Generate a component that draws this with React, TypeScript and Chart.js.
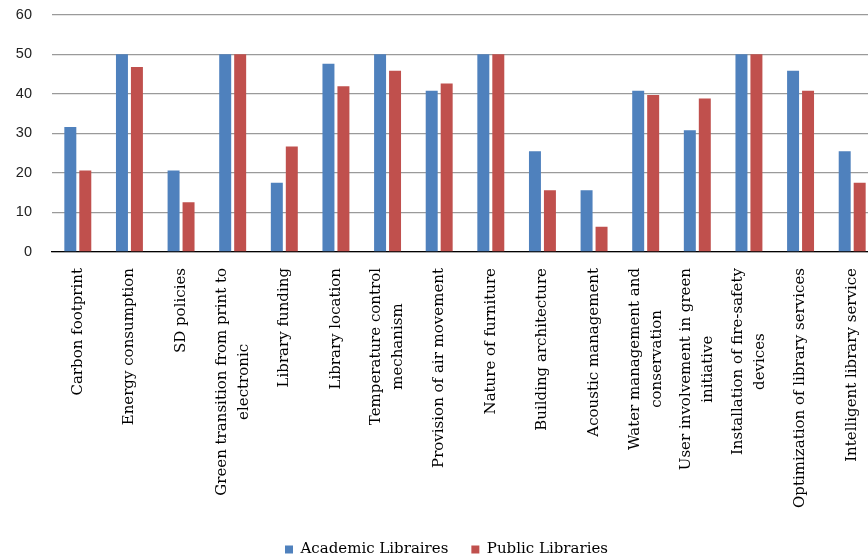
import React, { useEffect, useRef } from "react";
import { Chart, registerables } from "chart.js";

Chart.register(...registerables);

const categories: string[][] = [
  ["Carbon footprint"],
  ["Energy consumption"],
  ["SD policies"],
  ["Green transition from print to", "electronic"],
  ["Library funding"],
  ["Library location"],
  ["Temperature control", "mechanism"],
  ["Provision of air movement"],
  ["Nature of furniture"],
  ["Building architecture"],
  ["Acoustic management"],
  ["Water management and", "conservation"],
  ["User involvement in green", "initiative"],
  ["Installation of fire-safety", "devices"],
  ["Optimization of library services"],
  ["Intelligent library service"],
];

const academicLibraries = [31.6, 50, 20.6, 50, 17.5, 47.6, 50, 40.8, 50, 25.5, 15.6, 40.8, 30.8, 50, 45.8, 25.5];
const publicLibraries = [20.6, 46.8, 12.6, 50, 26.7, 41.9, 45.8, 42.6, 50, 15.6, 6.4, 39.7, 38.8, 50, 40.8, 17.5];

const seriesNames = ["Academic Libraires", "Public Libraries"];
const yMin = 0;
const yMax = 60;
const yStep = 10;

const SERIF = "'DejaVu Serif', 'Liberation Serif', serif";
const SANS = "'Liberation Sans', Arial, sans-serif";

const xLabelPlugin = {
  id: "xLabelsCentered",
  afterDraw(chart: any) {
    const ctx = chart.ctx;
    const xs = chart.scales.x;
    const bottom = chart.chartArea.bottom;
    ctx.save();
    ctx.font = `15px ${SERIF}`;
    ctx.fillStyle = "#000";
    ctx.textAlign = "center";
    ctx.textBaseline = "middle";
    categories.forEach((lines, i) => {
      const px = xs.getPixelForTick(i);
      const blockW = Math.max(...lines.map((l) => ctx.measureText(l).width));
      const cy = bottom + 16 + blockW / 2;
      lines.forEach((line, j) => {
        const lx = px + (j - (lines.length - 1) / 2) * 22;
        ctx.save();
        ctx.translate(lx, cy);
        ctx.rotate(-Math.PI / 2);
        ctx.fillText(line, 0, 0);
        ctx.restore();
      });
    });
    ctx.restore();
  },
};

export default function App() {
  const ref = useRef<HTMLCanvasElement | null>(null);

  useEffect(() => {
    if (!ref.current) return;
    const chart = new Chart(ref.current, {
      type: "bar",
      data: {
        labels: categories.map((l) => l.join(" ")),
        datasets: [
          {
            label: seriesNames[0],
            data: academicLibraries,
            backgroundColor: "#4F81BD",
            borderWidth: 0,
            categoryPercentage: 0.58,
            barPercentage: 0.8,
          },
          {
            label: seriesNames[1],
            data: publicLibraries,
            backgroundColor: "#C0504D",
            borderWidth: 0,
            categoryPercentage: 0.58,
            barPercentage: 0.8,
          },
        ],
      },
      options: {
        animation: false,
        responsive: true,
        maintainAspectRatio: false,
        layout: { padding: { left: 15, right: 0, top: 2, bottom: 0 } },
        plugins: {
          legend: {
            position: "bottom",
            labels: {
              boxWidth: 8,
              boxHeight: 8,
              padding: 23,
              color: "#000",
              font: { family: SERIF, size: 15 },
            },
          },
          tooltip: { enabled: false },
          title: { display: false },
        },
        scales: {
          x: {
            grid: { display: false, drawTicks: false },
            border: { display: true, color: "#000", width: 1.2 },
            ticks: { display: false },
            afterFit: (scale: any) => {
              scale.height = 267;
            },
          },
          y: {
            min: yMin,
            max: yMax,
            grid: { color: "#9a9a9a", lineWidth: 1.3, drawTicks: false },
            border: { display: false },
            ticks: {
              stepSize: yStep,
              padding: 20,
              color: "#222",
              font: { family: SANS, size: 14.5 },
            },
            afterFit: (scale: any) => {
              scale.width = 37;
            },
          },
        },
      },
      plugins: [xLabelPlugin],
    });
    return () => chart.destroy();
  }, []);

  return (
    <div
      style={{
        position: "fixed",
        left: 0,
        top: 0,
        width: 868,
        height: 560,
        overflow: "hidden",
        background: "#fff",
      }}
    >
      <div style={{ position: "relative", width: 878, height: 581, marginTop: -14 }}>
        <canvas ref={ref} />
      </div>
    </div>
  );
}
